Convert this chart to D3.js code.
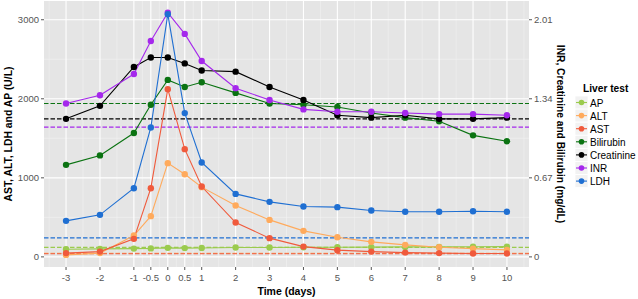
<!DOCTYPE html>
<html>
<head>
<meta charset="utf-8">
<script src="https://cdn.jsdelivr.net/npm/d3@7"></script>
<style>
body { margin: 0; background: #fff; }
text { font-family: "Liberation Sans", Arial, sans-serif; }
</style>
</head>
<body>
<svg id="chart" width="638" height="299"></svg>
<script>
var svg = d3.select('#chart');

// data (U/L for enzymes, mg/dL or ratio for the rest)
var days = [-3, -2, -1, -0.5, 0, 0.5, 1, 2, 3, 4, 5, 6, 7, 8, 9, 10];
var ap = [97, 101, 105, 107, 114, 111, 112, 118, 119, 121, 122, 124, 126, 126, 129, 130];
var alt = [25, 47, 270, 515, 1186, 1046, 882, 650, 468, 329, 249, 190, 152, 122, 105, 89];
var ast = [47, 67, 228, 869, 2122, 1363, 890, 434, 237, 130, 85, 67, 54, 47, 42, 42];
var bilirubin = [0.78, 0.86, 1.05, 1.29, 1.50, 1.44, 1.48, 1.39, 1.30, 1.29, 1.27, 1.22, 1.18, 1.15, 1.03, 0.98];
var creatinine = [1.17, 1.28, 1.61, 1.69, 1.69, 1.64, 1.58, 1.57, 1.44, 1.33, 1.20, 1.18, 1.20, 1.17, 1.17, 1.18];
var inr = [1.30, 1.37, 1.55, 1.83, 2.07, 1.89, 1.66, 1.43, 1.33, 1.25, 1.23, 1.23, 1.22, 1.21, 1.21, 1.20];
var ldh = [456, 532, 869, 1637, 3070, 1819, 1194, 797, 696, 637, 629, 586, 570, 570, 578, 570];

var tests = ['AP', 'ALT', 'AST', 'Bilirubin', 'Creatinine', 'INR', 'LDH'];
var colors = ['#9BCB4E', '#FFAA5C', '#F05A3C', '#0B7312', '#000000', '#A528EC', '#1F6FD2'];
var secondary = [false, false, false, true, true, true, false];
var series = [ap, alt, ast, bilirubin, creatinine, inr, ldh];
// upper limits of normal, same order as tests
var limits = [120, 45, 40, 1.3, 1.17, 1.1, 240];

var xTicks = [-3, -2, -1, -0.5, 0, 0.5, 1, 2, 3, 4, 5, 6, 7, 8, 9, 10];
var yTicks = [0, 1000, 2000, 3000];
var secTicks = [0, 0.67, 1.34, 2.01];
var factor = 3000 / 2.01;

var px0 = 44, px1 = 529, py0 = 1, py1 = 267;
var x = d3.scaleLinear().domain([-3.65, 10.65]).range([px0, px1]);
var y = d3.scaleLinear().domain([-128, 3237]).range([py1, py0]);
var ySec = d3.scaleLinear().domain(y.domain().map(v => v / factor)).range([py1, py0]);

var toU = (v, i) => secondary[i] ? v * factor : v;

// panel
svg.append('rect').attr('x', px0).attr('y', py0).attr('width', px1 - px0).attr('height', py1 - py0)
	.attr('fill', '#E5E5E5');

var xMinor = [-3.5];
for (var i = 0; i < xTicks.length - 1; i++) xMinor.push((xTicks[i] + xTicks[i + 1]) / 2);
xMinor.push(10.5);
var yMinor = [500, 1500, 2500];

var grid = svg.append('g');
grid.selectAll('.vmin').data(xMinor).enter().append('line')
	.attr('x1', d => x(d)).attr('x2', d => x(d)).attr('y1', py0).attr('y2', py1)
	.attr('stroke', '#F2F2F2').attr('stroke-width', 0.6);
grid.selectAll('.hmin').data(yMinor).enter().append('line')
	.attr('x1', px0).attr('x2', px1).attr('y1', d => y(d)).attr('y2', d => y(d))
	.attr('stroke', '#F2F2F2').attr('stroke-width', 0.6);
grid.selectAll('.vmaj').data(xTicks).enter().append('line')
	.attr('x1', d => x(d)).attr('x2', d => x(d)).attr('y1', py0).attr('y2', py1)
	.attr('stroke', '#fff').attr('stroke-width', 1.1);
grid.selectAll('.hmaj').data(yTicks).enter().append('line')
	.attr('x1', px0).attr('x2', px1).attr('y1', d => y(d)).attr('y2', d => y(d))
	.attr('stroke', '#fff').attr('stroke-width', 1.1);

// reference lines
svg.append('g').selectAll('line').data(tests).enter().append('line')
	.attr('x1', px0).attr('x2', px1)
	.attr('y1', (d, i) => y(toU(limits[i], i))).attr('y2', (d, i) => y(toU(limits[i], i)))
	.attr('stroke', (d, i) => colors[i]).attr('stroke-width', 1.1).attr('stroke-dasharray', '4.5,2');

// series
var line = d3.line().x(d => x(d[0])).y(d => y(d[1]));
var sdata = tests.map((t, i) => days.map((d, j) => [d, toU(series[i][j], i)]));
svg.append('g').selectAll('path').data(sdata).enter().append('path')
	.attr('d', line).attr('fill', 'none')
	.attr('stroke', (d, i) => colors[i]).attr('stroke-width', 1.1);
sdata.forEach(function(s, i) {
	svg.append('g').selectAll('circle').data(s).enter().append('circle')
		.attr('cx', d => x(d[0])).attr('cy', d => y(d[1])).attr('r', 3.2)
		.attr('fill', colors[i]);
});

// axes
var tickCol = '#555', labCol = '#555';
var xa = svg.append('g');
xa.selectAll('line').data(xTicks).enter().append('line')
	.attr('x1', d => x(d)).attr('x2', d => x(d)).attr('y1', py1).attr('y2', py1 + 3)
	.attr('stroke', tickCol);
xa.selectAll('text').data(xTicks).enter().append('text')
	.attr('x', d => x(d)).attr('y', py1 + 14).attr('text-anchor', 'middle')
	.attr('font-size', 9.5).attr('fill', labCol).text(d => d);

var ya = svg.append('g');
ya.selectAll('line').data(yTicks).enter().append('line')
	.attr('x1', px0 - 3).attr('x2', px0).attr('y1', d => y(d)).attr('y2', d => y(d))
	.attr('stroke', tickCol);
ya.selectAll('text').data(yTicks).enter().append('text')
	.attr('x', px0 - 5).attr('y', d => y(d) + 3.5).attr('text-anchor', 'end')
	.attr('font-size', 9.5).attr('fill', labCol).text(d => d);

var ys = svg.append('g');
ys.selectAll('line').data(secTicks).enter().append('line')
	.attr('x1', px1).attr('x2', px1 + 3).attr('y1', d => ySec(d)).attr('y2', d => ySec(d))
	.attr('stroke', tickCol);
ys.selectAll('text').data(secTicks).enter().append('text')
	.attr('x', px1 + 5).attr('y', d => ySec(d) + 3.5).attr('text-anchor', 'start')
	.attr('font-size', 9.5).attr('fill', labCol).text(d => d);

// titles
svg.append('text').attr('x', (px0 + px1) / 2).attr('y', 295).attr('text-anchor', 'middle')
	.attr('font-size', 10.5).attr('font-weight', 'bold').text('Time (days)');
svg.append('text').attr('transform', 'translate(12,' + ((py0 + py1) / 2) + ') rotate(-90)')
	.attr('text-anchor', 'middle').attr('font-size', 10.4).attr('font-weight', 'bold')
	.text('AST, ALT, LDH and AP (U/L)');
svg.append('text').attr('transform', 'translate(557,' + ((py0 + py1) / 2) + ') rotate(90)')
	.attr('text-anchor', 'middle').attr('font-size', 10.2).attr('font-weight', 'bold')
	.text('INR, Creatinine and Bilirubin (mg/dL)');

// legend
var lg = svg.append('g');
lg.append('text').attr('x', 583).attr('y', 92).attr('font-size', 10.2).attr('font-weight', 'bold')
	.text('Liver test');
var key = lg.selectAll('.key').data(tests).enter().append('g')
	.attr('transform', (d, i) => 'translate(575,' + (96 + i * 13.1) + ')');
key.append('rect').attr('width', 13).attr('height', 13).attr('fill', '#F2F2F2')
	.attr('stroke', '#fff').attr('stroke-width', 0.8);
key.append('line').attr('x1', 1).attr('x2', 12).attr('y1', 6.5).attr('y2', 6.5)
	.attr('stroke', (d, i) => colors[i]).attr('stroke-width', 1.1);
key.append('circle').attr('cx', 6.5).attr('cy', 6.5).attr('r', 2.8).attr('fill', (d, i) => colors[i]);
key.append('text').attr('x', 15).attr('y', 10.5).attr('font-size', 10).text(d => d);
</script>
</body>
</html>
